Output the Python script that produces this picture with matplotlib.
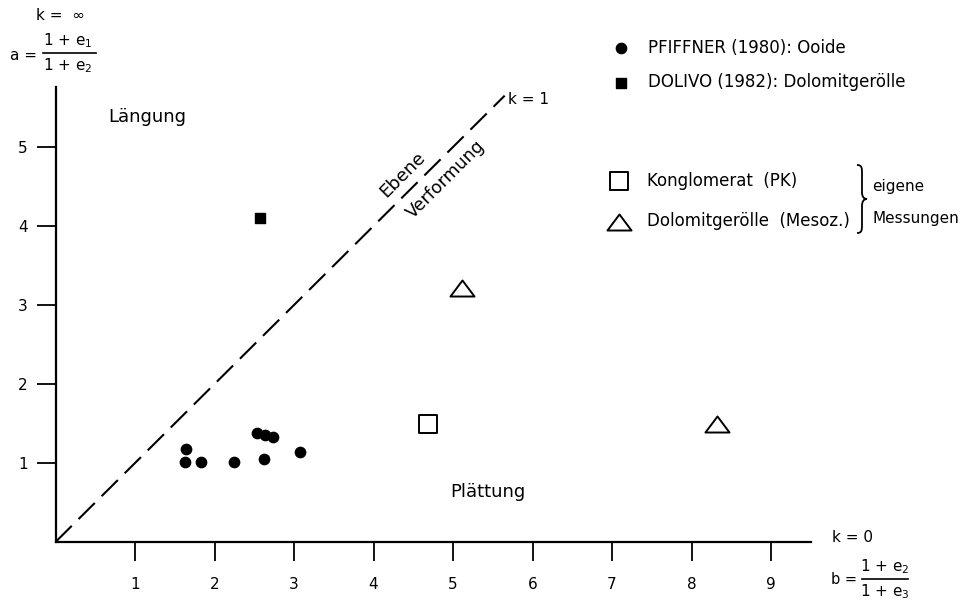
import matplotlib
matplotlib.use('Agg')
import matplotlib.pyplot as plt
from matplotlib.lines import Line2D
from matplotlib.path import Path
from matplotlib.patches import PathPatch

# Flinn-Diagramm: a = (1+e1)/(1+e2) gegen b = (1+e2)/(1+e3)
pfiffner_b = [1.64, 1.63, 1.83, 2.24, 2.53, 2.64, 2.74, 2.62, 3.08]
pfiffner_a = [1.18, 1.01, 1.01, 1.01, 1.38, 1.35, 1.33, 1.05, 1.14]
dolivo_b = [2.57]
dolivo_a = [4.10]
konglo_b = [4.68]
konglo_a = [1.49]
dolo_b = [5.11, 8.32]
dolo_a = [3.22, 1.49]
k1_end = 5.65
x_ticks = [1, 2, 3, 4, 5, 6, 7, 8, 9]
y_ticks = [1, 2, 3, 4, 5]

W, H = 968, 605
plt.rcParams['font.family'] = ['DejaVu Sans']
fig = plt.figure(figsize=(W / 100, H / 100), dpi=100)

# axes placed so that origin sits at pixel (55.5, 542)
x0, y0, sx, sy = 55.5, 542, 79.5, 79.0
xmax, ymax = 9.5, 5.76
ax = fig.add_axes([x0 / W, (H - y0) / H, xmax * sx / W, ymax * sy / H])
ax.set_xlim(0, xmax)
ax.set_ylim(0, ymax)
for s in ['top', 'right']:
    ax.spines[s].set_visible(False)
for s in ['left', 'bottom']:
    ax.spines[s].set_linewidth(1.6)
ax.set_xticks(x_ticks)
ax.set_yticks(y_ticks)
ax.tick_params(axis='x', length=14, width=1.3, pad=11, labelsize=11)
ax.tick_params(axis='y', length=14, width=1.3, pad=6, labelsize=11)

def ftext(px, py, s, **kw):
    # text placed in pixel coords of the figure
    kw.setdefault('fontsize', 11)
    return fig.text(px / W, 1 - py / H, s, **kw)

def fp(px, py):
    return (px / W, 1 - py / H)

# k = 1 line
ax.plot([0, k1_end], [0, k1_end], color='black', lw=1.5,
        linestyle=(0, (11, 4.6)), clip_on=False)

tri = Path([(-1.5, -1), (1.5, -1), (0, 1), (-1.5, -1)],
           [Path.MOVETO, Path.LINETO, Path.LINETO, Path.CLOSEPOLY])

h1 = ax.scatter(pfiffner_b, pfiffner_a, s=55, color='black', marker='o',
                label='PFIFFNER (1980): Ooide', zorder=3)
h2 = ax.scatter(dolivo_b, dolivo_a, s=60, color='black', marker='s',
                label='DOLIVO (1982): Dolomitgerölle', zorder=3)
h3 = ax.scatter(konglo_b, konglo_a, s=150, facecolor='white', edgecolor='black',
                lw=1.4, marker='s', label='Konglomerat  (PK)', zorder=3)
h4 = ax.scatter(dolo_b, dolo_a, s=300, facecolor='white', edgecolor='black',
                lw=1.4, marker=tri, label='Dolomitgerölle  (Mesoz.)', zorder=3)

leg1 = fig.legend(handles=[h1, h2], loc='upper left',
                  bbox_to_anchor=fp(598, 32), frameon=False,
                  fontsize=12, handletextpad=0.6, labelspacing=1.0,
                  scatterpoints=1, borderaxespad=0)
leg2 = fig.legend(handles=[h3, h4], loc='upper left',
                  bbox_to_anchor=fp(596, 165), frameon=False,
                  fontsize=12, handletextpad=0.65, labelspacing=1.35,
                  scatterpoints=1, borderaxespad=0)

# brace + eigene Messungen
bx, bt, bm, bb = 857, 165, 199, 233
brace = Path([(bx, bt), (bx + 5, bt), (bx + 5, bt + 3), (bx + 5, bt + 9),
              (bx + 5, bm - 7),
              (bx + 5, bm - 2), (bx + 7, bm), (bx + 10, bm),
              (bx + 7, bm), (bx + 5, bm + 2), (bx + 5, bm + 7),
              (bx + 5, bb - 9),
              (bx + 5, bb - 3), (bx + 5, bb), (bx, bb)],
             [Path.MOVETO, Path.CURVE4, Path.CURVE4, Path.CURVE4,
              Path.LINETO,
              Path.CURVE4, Path.CURVE4, Path.CURVE4,
              Path.CURVE4, Path.CURVE4, Path.CURVE4,
              Path.LINETO,
              Path.CURVE4, Path.CURVE4, Path.CURVE4])
brace = Path([fp(x, y) for x, y in brace.vertices], brace.codes)
fig.add_artist(PathPatch(brace, transform=fig.transFigure, fill=False,
                         lw=1.3, edgecolor='black'))
ftext(872, 187, 'eigene', va='center')
ftext(872, 218, 'Messungen', va='center')

# region labels
ftext(108, 117, 'Längung', va='center', fontsize=13)
ftext(450, 492, 'Plättung', va='center', fontsize=13)
ftext(403, 175, 'Ebene', va='center', ha='center', rotation=45, fontsize=13)
ftext(446, 179, 'Verformung', va='center', ha='center', rotation=45, fontsize=12.5)
ftext(508, 100, 'k = 1', va='center')
ftext(832, 538, 'k = 0', va='center')

# axis names
ftext(60, 16, 'k =  ∞', va='center', ha='center')
ftext(10, 55, 'a =', va='center')
ftext(68, 41, '1 + e$_1$', va='center', ha='center')
ftext(68, 66, '1 + e$_2$', va='center', ha='center')
fig.add_artist(Line2D([43 / W, 96 / W], [1 - 53 / H, 1 - 53 / H], color='black', lw=1.2))
ftext(831, 579, 'b =', va='center', fontsize=10.5)
ftext(885, 567, '1 + e$_2$', va='center', ha='center')
ftext(885, 592, '1 + e$_3$', va='center', ha='center')
fig.add_artist(Line2D([862 / W, 908 / W], [1 - 579 / H, 1 - 579 / H], color='black', lw=1.2))

fig.savefig('out.png', dpi=100)
